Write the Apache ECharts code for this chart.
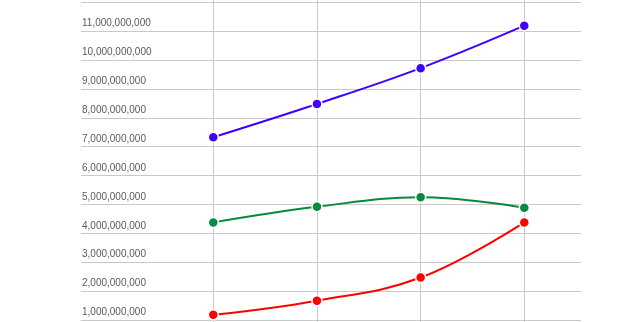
<!DOCTYPE html>
<html>
<head>
<meta charset="utf-8">
<script src="https://cdn.jsdelivr.net/npm/echarts@6/dist/echarts.min.js"></script>
<style>
html,body{margin:0;padding:0;background:#fff;overflow:hidden;width:630px;height:322px;position:relative;}
#chart{position:absolute;left:0;top:-60px;width:630px;height:442px;}
</style>
</head>
<body>
<div id="chart"></div>
<script>
var categories = ['1', '2', '3', '4'];
var seriesNames = ['Series 1', 'Series 2', 'Series 3'];
var blueValues = [7.33e9, 8.48e9, 9.72e9, 11.19e9];
var greenValues = [4.38e9, 4.92e9, 5.25e9, 4.89e9];
var redValues = [1.18e9, 1.67e9, 2.47e9, 4.38e9];
var yMin = 0, yMax = 13e9, yStep = 1e9;

var chart = echarts.init(document.getElementById('chart'), null, {renderer: 'canvas'});
var gridColor = '#c9c9c9';
var labelFont = "'Liberation Sans', Arial, sans-serif";

function lineSeries(name, data, color) {
  return {
    name: name, type: 'line', xAxisIndex: 1, yAxisIndex: 1,
    data: data, smooth: 0.4,
    symbol: 'circle', symbolSize: 10,
    lineStyle: {color: color, width: 2},
    itemStyle: {color: color, borderColor: '#fff', borderWidth: 1.5},
    emphasis: {disabled: true}
  };
}

chart.setOption({
  animation: false,
  backgroundColor: '#fff',
  grid: [
    {left: 81, right: 49, top: 33.4, bottom: 33.1, containLabel: false, outerBoundsMode: 'none'},
    {left: 213.3, right: 105.7, top: 33.4, bottom: 33.1, containLabel: false, outerBoundsMode: 'none'}
  ],
  xAxis: [
    {type: 'value', gridIndex: 0, show: false, min: 0, max: 1},
    {type: 'category', gridIndex: 1, data: categories, boundaryGap: false,
     axisLine: {show: false}, axisTick: {show: false}, axisLabel: {show: false},
     splitLine: {show: true, lineStyle: {color: gridColor, width: 1}}}
  ],
  yAxis: [
    {type: 'value', gridIndex: 0, min: yMin, max: yMax, interval: yStep,
     axisLine: {show: false}, axisTick: {show: false},
     splitLine: {show: true, lineStyle: {color: gridColor, width: 1}},
     axisLabel: {inside: true, margin: 1, verticalAlign: 'bottom', lineHeight: 15,
       color: '#595966', fontSize: 10, fontFamily: labelFont,
       formatter: function (v) { return v.toLocaleString('en-US'); }}},
    {type: 'value', gridIndex: 1, min: yMin, max: yMax, interval: yStep, show: false}
  ],
  series: [
    lineSeries(seriesNames[0], blueValues, '#4000ff'),
    lineSeries(seriesNames[1], greenValues, '#07893e'),
    lineSeries(seriesNames[2], redValues, '#ff0000')
  ]
});
</script>
</body>
</html>
